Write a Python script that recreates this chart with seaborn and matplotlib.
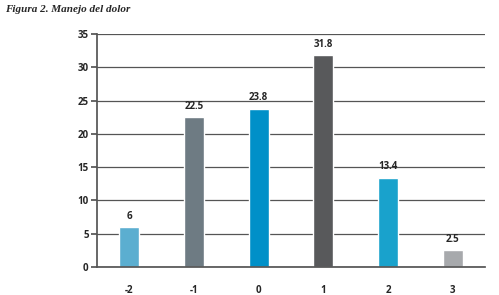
import matplotlib
matplotlib.use("Agg")
import matplotlib.pyplot as plt
import seaborn as sns
import pandas as pd

categories = ["-2", "-1", "0", "1", "2", "3"]
values = [6, 22.5, 23.8, 31.8, 13.4, 2.5]
labels = ["6", "22.5", "23.8", "31.8", "13.4", "2.5"]
colors = ["#5BAED0", "#6E7B83", "#0090C8", "#58595B", "#19A2CC", "#A7A9AC"]
yticks = [0, 5, 10, 15, 20, 25, 30, 35]

sns.set_theme(style="white")
plt.rcParams['font.family'] = ['Open Sans', 'DejaVu Sans']

df = pd.DataFrame({"cat": categories, "val": values})

fig = plt.figure(figsize=(4.99, 2.95), dpi=100)
ax = fig.add_axes([97/499, 28/295, (485-97)/499, (267-34)/295])
sns.barplot(data=df, x="cat", y="val", hue="cat", palette=colors, legend=False,
            width=0.31, ax=ax, saturation=1)
ax.set_ylim(0, 35)
ax.set_xlim(-0.5, 5.5)
ax.set_yticks(yticks)
ax.set_xlabel("")
ax.set_ylabel("")
ax.yaxis.grid(True, color="#555555", linewidth=0.9)
ax.set_axisbelow(True)
for s in ["top", "right"]:
    ax.spines[s].set_visible(False)
ax.spines["left"].set_color("#555555")
ax.spines["bottom"].set_color("#555555")
ax.tick_params(axis="y", left=True, length=4, color="#555555", labelsize=7, pad=2)
ax.tick_params(axis="x", bottom=False, labelsize=7, pad=7)
for lab in ax.get_xticklabels() + ax.get_yticklabels():
    lab.set_fontweight("bold")
for i, c in enumerate(ax.containers):
    ax.bar_label(c, labels=[labels[i]], padding=4, fontsize=7, fontweight="bold")

fig.text(5/499, 1 - 9/295, "Figura 2. Manejo del dolor", family=["Liberation Serif", "DejaVu Serif"],
         style="italic", fontweight="bold", fontsize=8, va="center", ha="left")

fig.savefig("out.png", dpi=100)
